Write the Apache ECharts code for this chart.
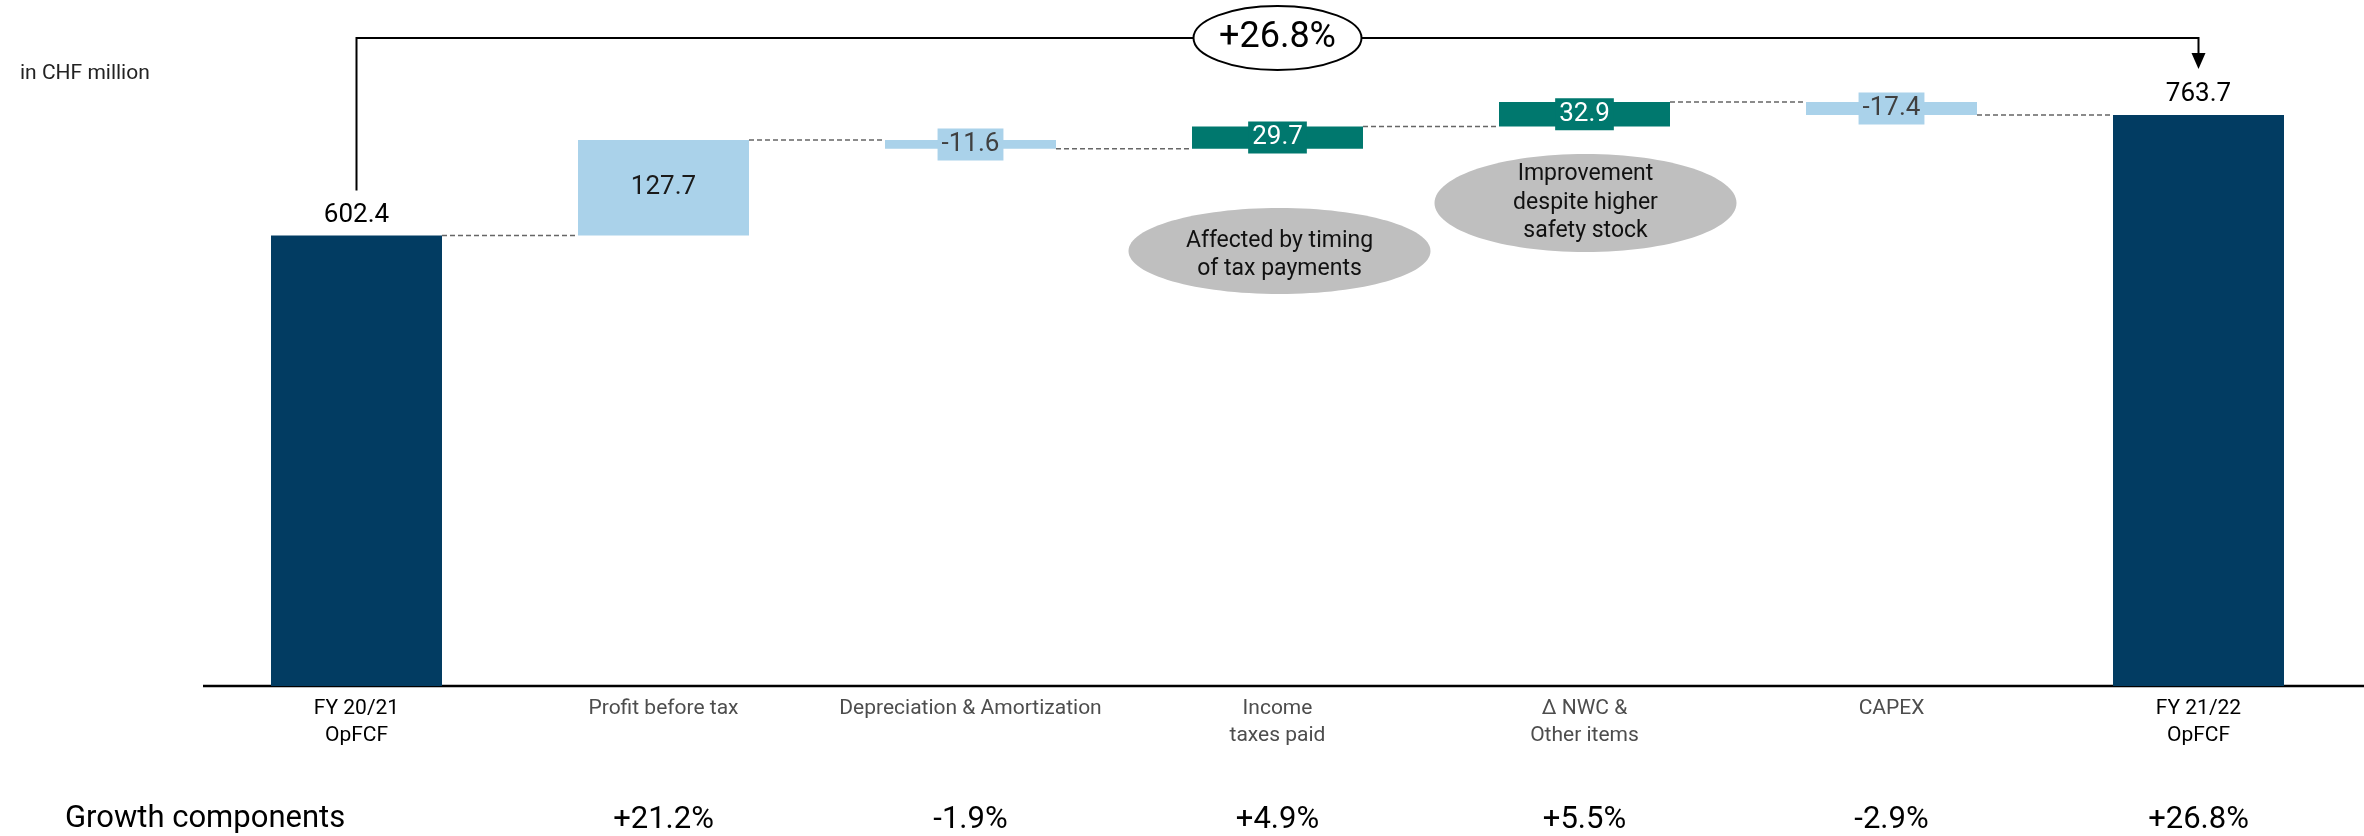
<!DOCTYPE html>
<html>
<head>
<meta charset="utf-8">
<script src="https://cdn.jsdelivr.net/npm/echarts@6/dist/echarts.min.js"></script>
<style>
html, body { margin: 0; padding: 0; background: #fff; }
#chart { width: 2364px; height: 836px; }
</style>
</head>
<body>
<div id="chart"></div>
<script>
// data
const categories = ['FY 20/21\nOpFCF', 'Profit before tax', 'Depreciation & Amortization', 'Income\ntaxes paid', 'Δ NWC &\nOther items', 'CAPEX', 'FY 21/22\nOpFCF'];
const startValue = 602.4;
const deltas = [127.7, -11.6, 29.7, 32.9, -17.4];
const endValue = 763.7;
const growth = ['', '+21.2%', '-1.9%', '+4.9%', '+5.5%', '-2.9%', '+26.8%'];
const totalGrowth = '+26.8%';
const noteTax = 'Affected by timing\nof tax payments';
const noteNwc = 'Improvement\ndespite higher\nsafety stock';

// styles
const NAVY = '#023c62';
const LIGHT = '#aad2ea';
const TEAL = '#00786e';
const FONT = 'Roboto, "Noto Sans", sans-serif';
const barColor = [NAVY, LIGHT, LIGHT, TEAL, TEAL, LIGHT, NAVY];
const labelKind = ['top', 'inside', 'boxDark', 'boxLight', 'boxLight', 'boxDark', 'top'];
const BAR_W = 171;

// waterfall build
const levels = [startValue];
deltas.forEach(d => levels.push(+(levels[levels.length - 1] + d).toFixed(1)));
const base = [0], size = [startValue], texts = [startValue.toFixed(1)];
deltas.forEach((d, i) => {
    base.push(Math.min(levels[i], levels[i + 1]));
    size.push(Math.abs(d));
    texts.push(d.toFixed(1));
});
base.push(0); size.push(endValue); texts.push(endValue.toFixed(1));

function labelFor(i) {
    const k = labelKind[i];
    const l = { show: true, fontFamily: FONT, fontSize: 26, lineHeight: 26, formatter: texts[i] };
    if (k === 'top') return Object.assign(l, { position: 'top', distance: 7, color: '#000' });
    if (k === 'inside') return Object.assign(l, { position: 'inside', color: '#1a1a1a' });
    if (k === 'boxDark') return Object.assign(l, { position: 'inside', color: '#404040', backgroundColor: barColor[i], padding: [3, 4] });
    return Object.assign(l, { position: 'inside', color: '#fff', backgroundColor: barColor[i], padding: [3, 4] });
}

const chart = echarts.init(document.getElementById('chart'));
chart.setOption({
    animation: false,
    grid: { left: 203, right: 12, top: 13, bottom: 150 },
    xAxis: [{
        type: 'category',
        data: categories,
        axisLine: { show: false },
        axisTick: { show: false },
        axisLabel: {
            interval: 0,
            margin: 9,
            formatter: (v) => {
                const s = v.indexOf('FY') === 0 ? 'fy' : 'cat';
                return v.split('\n').map(t => '{' + s + '|' + t + '}').join('\n');
            },
            rich: {
                fy: { fontFamily: FONT, fontSize: 21, lineHeight: 27, color: '#000' },
                cat: { fontFamily: FONT, fontSize: 21, lineHeight: 27, color: '#4d4d4d' }
            }
        }
    }, {
        type: 'category',
        data: categories,
        position: 'bottom',
        offset: 110,
        axisLine: { show: false },
        axisTick: { show: false },
        axisLabel: {
            interval: 0,
            margin: 9,
            fontFamily: FONT,
            fontSize: 31,
            lineHeight: 30,
            color: '#000',
            formatter: (v, i) => growth[i]
        }
    }],
    yAxis: { type: 'value', min: 0, max: 900, show: false, splitLine: { show: false } },
    series: [{
        type: 'bar',
        stack: 'wf',
        barWidth: BAR_W,
        itemStyle: { color: 'transparent' },
        emphasis: { disabled: true },
        data: base
    }, {
        type: 'bar',
        stack: 'wf',
        barWidth: BAR_W,
        z: 3,
        data: size.map((v, i) => ({ value: v, itemStyle: { color: barColor[i] }, label: labelFor(i) }))
    }, {
        type: 'custom',
        z: 1,
        data: levels.map((v, i) => [i, v]),
        renderItem: (params, api) => {
            const p = api.coord([api.value(0), api.value(1)]);
            const band = api.size([1, 0])[0];
            return {
                type: 'line',
                shape: { x1: p[0] + BAR_W / 2, y1: p[1], x2: p[0] + band - BAR_W / 2, y2: p[1] },
                style: { stroke: '#666', lineWidth: 1.5, lineDash: [5, 3] }
            };
        }
    }]
});

// annotations placed from the axes
const pStart = chart.convertToPixel({ gridIndex: 0 }, [0, startValue]);
const pEnd = chart.convertToPixel({ gridIndex: 0 }, [categories.length - 1, endValue]);
const pZero = chart.convertToPixel({ gridIndex: 0 }, [0, 0]);
const pTax = chart.convertToPixel({ gridIndex: 0 }, [3, 0]);
const pNwc = chart.convertToPixel({ gridIndex: 0 }, [4, 0]);
const band = pEnd[0] - pStart[0];
const topY = 38;
const midX = (pStart[0] + pEnd[0]) / 2;

chart.setOption({
    graphic: [
        { type: 'line', shape: { x1: pZero[0] - (band / 6) / 2, y1: pZero[1], x2: 2364, y2: pZero[1] }, style: { stroke: '#000', lineWidth: 2.5 } },
        { type: 'text', left: 20, top: 63, style: { text: 'in CHF million', font: '21px ' + FONT, fill: '#222' } },
        { type: 'polyline', shape: { points: [[pStart[0], pStart[1] - 45], [pStart[0], topY], [pEnd[0], topY], [pEnd[0], 54]] }, style: { stroke: '#000', lineWidth: 2, fill: null } },
        { type: 'polygon', shape: { points: [[pEnd[0] - 7, 53], [pEnd[0] + 7, 53], [pEnd[0], 69]] }, style: { fill: '#000' } },
        { type: 'ellipse', shape: { cx: midX, cy: topY, rx: 84, ry: 32 }, style: { fill: '#fff', stroke: '#000', lineWidth: 2 } },
        { type: 'text', x: midX, y: topY, style: { text: totalGrowth, font: '36px ' + FONT, fill: '#000', align: 'center', verticalAlign: 'middle' } },
        { type: 'ellipse', shape: { cx: pTax[0] + 2, cy: 251, rx: 151, ry: 43 }, style: { fill: '#bfbfbf' } },
        { type: 'text', x: pTax[0] + 2, y: 255, style: { text: noteTax, font: '23px ' + FONT, lineHeight: 28, fill: '#111', align: 'center', verticalAlign: 'middle' } },
        { type: 'ellipse', shape: { cx: pNwc[0] + 1, cy: 203, rx: 151, ry: 49 }, style: { fill: '#bfbfbf' } },
        { type: 'text', x: pNwc[0] + 1, y: 203, style: { text: noteNwc, font: '23px ' + FONT, lineHeight: 28.5, fill: '#111', align: 'center', verticalAlign: 'middle' } },
        { type: 'text', left: 65, top: 804, style: { text: 'Growth components', font: '31px ' + FONT, fill: '#000' } }
    ]
});
</script>
</body>
</html>
